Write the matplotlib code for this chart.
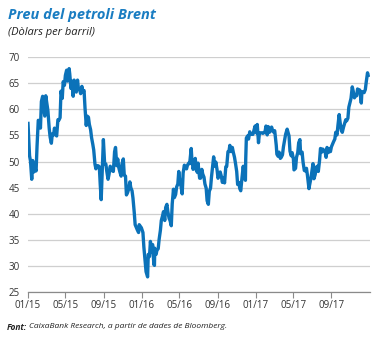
import matplotlib
matplotlib.use("Agg")
import matplotlib.pyplot as plt
import matplotlib.dates as mdates
import numpy as np
import pandas as pd

dates = [
 "2015-01-01","2015-01-06","2015-01-09","2015-01-13","2015-01-16","2015-01-20","2015-01-23","2015-01-27","2015-01-30",
 "2015-02-03","2015-02-06","2015-02-10","2015-02-13","2015-02-17","2015-02-20","2015-02-24","2015-02-27",
 "2015-03-03","2015-03-06","2015-03-10","2015-03-13","2015-03-17","2015-03-20","2015-03-24","2015-03-27","2015-03-31",
 "2015-04-03","2015-04-07","2015-04-10","2015-04-14","2015-04-17","2015-04-21","2015-04-24","2015-04-28",
 "2015-05-01","2015-05-05","2015-05-08","2015-05-13","2015-05-15","2015-05-19","2015-05-22","2015-05-26","2015-05-29",
 "2015-06-02","2015-06-05","2015-06-09","2015-06-12","2015-06-16","2015-06-19","2015-06-23","2015-06-26","2015-06-30",
 "2015-07-03","2015-07-07","2015-07-10","2015-07-14","2015-07-17","2015-07-21","2015-07-24","2015-07-28","2015-07-31",
 "2015-08-04","2015-08-07","2015-08-11","2015-08-14","2015-08-18","2015-08-21","2015-08-24","2015-08-27","2015-08-31",
 "2015-09-04","2015-09-08","2015-09-11","2015-09-15","2015-09-18","2015-09-22","2015-09-25","2015-09-29",
 "2015-10-02","2015-10-06","2015-10-09","2015-10-13","2015-10-16","2015-10-20","2015-10-23","2015-10-27","2015-10-30",
 "2015-11-03","2015-11-06","2015-11-10","2015-11-13","2015-11-17","2015-11-20","2015-11-24","2015-11-27",
 "2015-12-01","2015-12-04","2015-12-08","2015-12-11","2015-12-15","2015-12-18","2015-12-22","2015-12-24","2015-12-31",
 "2016-01-05","2016-01-08","2016-01-12","2016-01-15","2016-01-20","2016-01-22","2016-01-26","2016-01-29",
 "2016-02-02","2016-02-05","2016-02-09","2016-02-11","2016-02-12","2016-02-16","2016-02-19","2016-02-23","2016-02-26",
 "2016-03-01","2016-03-04","2016-03-08","2016-03-11","2016-03-15","2016-03-18","2016-03-22","2016-03-25","2016-03-29",
 "2016-04-01","2016-04-05","2016-04-08","2016-04-12","2016-04-15","2016-04-19","2016-04-22","2016-04-26","2016-04-29",
 "2016-05-03","2016-05-06","2016-05-10","2016-05-13","2016-05-17","2016-05-20","2016-05-24","2016-05-27","2016-05-31",
 "2016-06-03","2016-06-08","2016-06-10","2016-06-14","2016-06-17","2016-06-21","2016-06-24","2016-06-28","2016-06-30",
 "2016-07-05","2016-07-08","2016-07-12","2016-07-15","2016-07-19","2016-07-22","2016-07-26","2016-07-29",
 "2016-08-02","2016-08-05","2016-08-09","2016-08-12","2016-08-16","2016-08-19","2016-08-23","2016-08-26","2016-08-30",
 "2016-09-02","2016-09-06","2016-09-09","2016-09-13","2016-09-16","2016-09-20","2016-09-23","2016-09-27","2016-09-30",
 "2016-10-04","2016-10-07","2016-10-10","2016-10-14","2016-10-18","2016-10-21","2016-10-25","2016-10-28",
 "2016-11-01","2016-11-04","2016-11-08","2016-11-11","2016-11-14","2016-11-18","2016-11-22","2016-11-25","2016-11-29","2016-11-30",
 "2016-12-02","2016-12-06","2016-12-09","2016-12-13","2016-12-16","2016-12-20","2016-12-23","2016-12-30",
 "2017-01-03","2017-01-06","2017-01-10","2017-01-13","2017-01-17","2017-01-20","2017-01-24","2017-01-27","2017-01-31",
 "2017-02-03","2017-02-07","2017-02-10","2017-02-14","2017-02-17","2017-02-21","2017-02-24","2017-02-28",
 "2017-03-03","2017-03-08","2017-03-10","2017-03-14","2017-03-17","2017-03-21","2017-03-24","2017-03-28","2017-03-31",
 "2017-04-04","2017-04-07","2017-04-12","2017-04-18","2017-04-21","2017-04-25","2017-04-28",
 "2017-05-02","2017-05-04","2017-05-09","2017-05-12","2017-05-16","2017-05-19","2017-05-23","2017-05-25","2017-05-30",
 "2017-06-02","2017-06-06","2017-06-09","2017-06-13","2017-06-16","2017-06-21","2017-06-23","2017-06-27","2017-06-30",
 "2017-07-04","2017-07-07","2017-07-11","2017-07-14","2017-07-18","2017-07-21","2017-07-25","2017-07-28",
 "2017-08-01","2017-08-04","2017-08-08","2017-08-11","2017-08-15","2017-08-18","2017-08-22","2017-08-25","2017-08-29",
 "2017-09-01","2017-09-05","2017-09-08","2017-09-12","2017-09-15","2017-09-19","2017-09-22","2017-09-26","2017-09-29",
 "2017-10-03","2017-10-06","2017-10-10","2017-10-13","2017-10-17","2017-10-20","2017-10-24","2017-10-27","2017-10-31",
 "2017-11-03","2017-11-07","2017-11-10","2017-11-14","2017-11-17","2017-11-21","2017-11-24","2017-11-28",
 "2017-12-01","2017-12-06","2017-12-08","2017-12-12","2017-12-15","2017-12-19","2017-12-22","2017-12-26","2017-12-28",
]
prices = [
 57.3,51.1,50.1,46.6,50.2,48.0,48.8,48.2,52.9,
 57.9,57.8,56.4,61.5,62.5,60.2,58.7,62.6,
 61.0,59.7,56.4,54.7,53.5,55.3,55.1,56.4,55.1,
 54.9,58.0,57.9,58.4,63.5,62.1,65.3,64.6,
 66.5,67.5,65.4,67.8,66.8,64.0,65.4,62.5,65.6,
 64.9,63.3,65.6,63.9,63.7,63.0,64.4,63.3,63.6,
 60.3,56.9,58.7,58.5,57.1,56.1,54.6,53.3,52.2,
 49.5,48.6,49.2,49.2,49.0,45.5,42.7,47.6,54.2,
 49.6,49.5,48.1,46.6,47.5,49.1,48.6,48.2,
 48.1,51.9,52.7,49.2,50.5,48.7,48.0,47.2,49.6,
 50.5,47.4,47.2,43.6,44.1,44.7,46.1,45.0,
 44.4,43.0,40.3,37.9,37.3,36.9,36.4,37.9,37.3,
 36.4,33.6,30.9,28.9,27.9,32.2,31.8,34.7,
 32.7,34.1,30.3,30.1,33.4,32.2,33.0,33.3,35.1,
 36.8,38.7,39.6,40.4,38.7,41.2,41.8,40.4,39.1,
 38.7,37.7,41.9,44.7,43.1,43.7,45.1,45.7,48.1,
 45.8,45.4,43.8,47.8,49.3,48.7,48.6,49.3,49.7,
 49.6,52.5,50.5,48.5,49.2,50.6,48.4,47.9,49.7,
 46.8,46.8,48.5,47.6,47.0,45.7,44.9,42.5,
 41.8,44.3,44.9,47.0,49.3,50.9,49.1,49.9,48.4,
 46.8,47.3,48.0,47.1,46.0,46.8,45.9,49.0,49.1,
 51.9,51.9,53.1,51.9,52.7,51.8,50.8,49.7,
 48.1,45.6,46.0,44.8,44.4,46.9,49.1,47.2,46.4,50.5,
 54.5,54.9,54.3,55.7,55.2,55.3,55.2,56.8,
 55.5,57.1,53.6,55.5,55.5,55.5,55.4,55.5,55.7,
 56.8,55.1,56.7,55.6,55.8,56.6,56.0,55.6,
 55.9,53.1,51.4,51.0,51.8,50.6,50.8,51.3,52.8,
 54.2,55.2,56.2,54.9,52.0,51.1,51.7,
 50.5,48.4,48.7,50.8,51.7,53.6,54.2,51.5,51.8,
 49.9,48.3,48.2,48.7,47.4,44.8,45.5,46.7,47.9,
 49.6,46.7,47.5,48.9,49.1,48.1,50.2,52.5,
 51.8,52.4,52.1,52.1,50.8,52.7,51.7,52.4,51.9,
 52.8,53.4,53.8,54.3,55.6,55.1,56.9,59.0,57.5,
 55.9,55.6,56.6,57.2,58.0,57.8,58.3,60.4,61.4,
 62.1,64.3,63.5,62.2,62.7,62.6,63.9,63.6,
 63.7,61.2,63.4,63.3,63.2,63.8,65.3,67.0,66.5,
]
tick_labels = ["01/15","05/15","09/15","01/16","05/16","09/16","01/17","05/17","09/17"]
tick_dates = ["2015-01-01","2015-05-01","2015-09-01","2016-01-01","2016-05-01","2016-09-01","2017-01-01","2017-05-01","2017-09-01"]
y_ticks = [25,30,35,40,45,50,55,60,65,70]

plt.rcParams['font.family'] = ['Open Sans', 'DejaVu Sans']

fig = plt.figure(figsize=(3.83, 3.38), dpi=100)
fig.patch.set_facecolor('white')
ax = fig.add_axes([0.0731, 0.136, 0.893, 0.695])

x = pd.to_datetime(dates)
ax.plot(x, prices, color='#0b72b9', linewidth=2.4, solid_joinstyle='round')

ax.set_ylim(25, 70)
ax.set_xlim(pd.Timestamp("2015-01-01"), pd.Timestamp("2018-01-03"))
ax.set_yticks(y_ticks)
ax.set_yticklabels([str(v) for v in y_ticks])
ax.set_xticks(pd.to_datetime(tick_dates))
ax.set_xticklabels(tick_labels)

ax.grid(axis='y', color='#cfcfcf', linewidth=0.9)
ax.set_axisbelow(True)
for s in ['top', 'right', 'left']:
    ax.spines[s].set_visible(False)
ax.spines['bottom'].set_color('#8a8a8a')
ax.spines['bottom'].set_linewidth(0.9)
ax.tick_params(axis='y', length=0, labelsize=7, labelcolor='#333333', pad=6)
ax.tick_params(axis='x', length=4, width=0.8, color='#8a8a8a', labelsize=7, labelcolor='#333333', pad=2)
ax.set_facecolor('none')

fig.text(8/383, 1-15/338, "Preu del petroli Brent", fontsize=10.5, fontweight='bold',
         fontstyle='italic', color='#1a7dc2', va='center', ha='left')
fig.text(8/383, 1-33/338, "(Dòlars per barril)", fontsize=8, fontstyle='italic',
         color='#222222', va='center', ha='left')

t1 = fig.text(7/383, 1-327/338, "Font:", fontsize=6, fontweight='bold', fontstyle='italic',
              color='#222222', va='center', ha='left')
fig.canvas.draw()
bb = t1.get_window_extent()
x2 = (bb.x1 + 2) / fig.bbox.width
fig.text(x2, 1-327/338, "CaixaBank Research, a partir de dades de Bloomberg.", fontsize=6,
         fontstyle='italic', color='#222222', va='center', ha='left')

fig.savefig("out.png", dpi=100, facecolor='white')
